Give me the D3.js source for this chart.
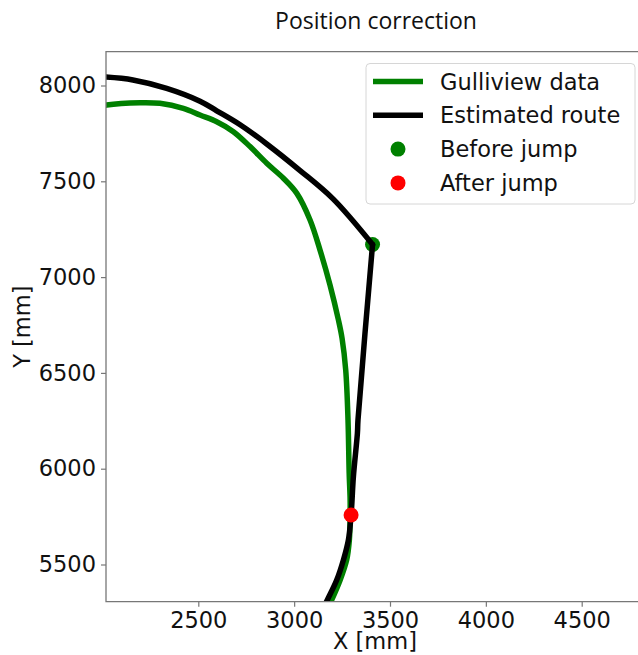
<!DOCTYPE html>
<html>
<head>
  <meta charset="utf-8">
  <title>Position correction</title>
  <style>
    body { margin: 0; background: #fff; }
    text { font-family: "DejaVu Sans", sans-serif; fill: #111; }
  </style>
</head>
<body>
<script src="https://d3js.org/d3.v7.min.js"></script>
<script>
  var width = 638;
  var height = 655;

  // gulliview measurements [x, y] in mm
  var gullX = [1980, 2022, 2196, 2300, 2422, 2509, 2596, 2683, 2770, 2857, 2944, 3014, 3083, 3135, 3187, 3231, 3250, 3269, 3281, 3287, 3292, 3292, 3288, 3274, 3240, 3196, 3166];
  var gullY = [7888, 7898, 7910, 7907, 7881, 7846, 7811, 7759, 7681, 7594, 7516, 7437, 7298, 7141, 6959, 6776, 6680, 6515, 6254, 5978, 5837, 5758, 5628, 5524, 5419, 5315, 5252];

  // estimated route (index 10 is the jump corner)
  var routeX = [1950, 2018, 2159, 2335, 2509, 2596, 2718, 2857, 3031, 3203, 3409, 3333, 3330, 3309, 3297, 3283, 3257, 3222, 3173, 3135];
  var routeY = [8046, 8044, 8029, 7985, 7918, 7868, 7795, 7695, 7556, 7408, 7170, 6254, 6186, 5958, 5758, 5628, 5524, 5419, 5315, 5237];
  var cornerIndex = 10;

  var beforeJump = [3409, 7170];
  var afterJump = [3297, 5758];

  var xTicks = [2500, 3000, 3500, 4000, 4500];
  var yTicks = [5500, 6000, 6500, 7000, 7500, 8000];

  var plotLeft = 106, plotTop = 51.7, plotBottom = 601.7, plotRight = 640;
  var fontSize = 22.5;

  var x = d3.scaleLinear().domain([2500, 4500]).range([198.3, 581.7]);
  var y = d3.scaleLinear().domain([8000, 5500]).range([85.5, 564.5]);

  var svg = d3.select('body')
    .append('svg')
      .attr('width', width)
      .attr('height', height);

  svg.append('defs').append('clipPath')
      .attr('id', 'plot-clip')
    .append('rect')
      .attr('x', plotLeft)
      .attr('y', plotTop)
      .attr('width', plotRight - plotLeft)
      .attr('height', plotBottom - plotTop);

  var line = d3.line()
    .x(function(d) { return x(d[0]); })
    .y(function(d) { return y(d[1]); })
    .curve(d3.curveCatmullRom.alpha(0.5));

  var plot = svg.append('g').attr('clip-path', 'url(#plot-clip)');

  var gull = d3.zip(gullX, gullY);
  var route = d3.zip(routeX, routeY);

  plot.append('path')
    .attr('d', line(gull))
    .attr('fill', 'none')
    .attr('stroke', 'green')
    .attr('stroke-width', 5.5)
    .attr('stroke-linejoin', 'round');

  plot.append('circle')
    .attr('cx', x(beforeJump[0]))
    .attr('cy', y(beforeJump[1]))
    .attr('r', 7.5)
    .attr('fill', 'green');

  // route drawn in two pieces so the jump stays a sharp corner
  [route.slice(0, cornerIndex + 1), route.slice(cornerIndex)].forEach(function(part) {
    plot.append('path')
      .attr('d', line(part))
      .attr('fill', 'none')
      .attr('stroke', 'black')
      .attr('stroke-width', 5.5)
      .attr('stroke-linecap', 'round')
      .attr('stroke-linejoin', 'round');
  });

  plot.append('circle')
    .attr('cx', x(afterJump[0]))
    .attr('cy', y(afterJump[1]))
    .attr('r', 7.5)
    .attr('fill', 'red');

  // axes
  var xAxis = d3.axisBottom(x).tickValues(xTicks).tickSize(5).tickPadding(5).tickFormat(d3.format('d'));
  var yAxis = d3.axisLeft(y).tickValues(yTicks).tickSize(5).tickPadding(5).tickFormat(d3.format('d'));

  var gx = svg.append('g')
    .attr('transform', 'translate(0,' + plotBottom + ')')
    .call(xAxis);
  var gy = svg.append('g')
    .attr('transform', 'translate(' + plotLeft + ',0)')
    .call(yAxis);

  [gx, gy].forEach(function(g) {
    g.select('.domain').remove();
    g.selectAll('line').attr('stroke', '#777').attr('stroke-width', 1.2);
    g.selectAll('text').attr('font-size', fontSize).attr('font-family', '"DejaVu Sans", sans-serif').attr('fill', '#111');
  });

  // spines
  svg.append('path')
    .attr('d', 'M' + plotRight + ',' + plotTop + 'H' + plotLeft + 'V' + plotBottom + 'H' + plotRight)
    .attr('fill', 'none')
    .attr('stroke', '#777')
    .attr('stroke-width', 1.3);

  svg.append('text')
    .attr('x', 375)
    .attr('y', 649)
    .attr('text-anchor', 'middle')
    .attr('font-size', fontSize)
    .text('X [mm]');

  svg.append('text')
    .attr('transform', 'translate(30,' + (plotTop + plotBottom) / 2 + ') rotate(-90)')
    .attr('text-anchor', 'middle')
    .attr('font-size', fontSize)
    .text('Y [mm]');

  svg.append('text')
    .attr('x', 376)
    .attr('y', 29)
    .attr('text-anchor', 'middle')
    .attr('font-size', 23)
    .style('font-family', '"Open Sans", sans-serif')
    .text('Position correction');

  // legend
  var legend = svg.append('g');
  legend.append('rect')
    .attr('x', 366)
    .attr('y', 63.5)
    .attr('width', 269)
    .attr('height', 140.5)
    .attr('rx', 4)
    .attr('fill', 'white')
    .attr('fill-opacity', 0.8)
    .attr('stroke', '#d6d6d6')
    .attr('stroke-width', 1);

  var items = [
    { label: 'Gulliview data', type: 'line', color: 'green' },
    { label: 'Estimated route', type: 'line', color: 'black' },
    { label: 'Before jump', type: 'dot', color: 'green' },
    { label: 'After jump', type: 'dot', color: 'red' }
  ];

  items.forEach(function(it, i) {
    var cy = 81.5 + i * 33.8;
    if (it.type === 'line') {
      legend.append('line')
        .attr('x1', 373).attr('x2', 423)
        .attr('y1', cy).attr('y2', cy)
        .attr('stroke', it.color)
        .attr('stroke-width', 5.5);
    } else {
      legend.append('circle')
        .attr('cx', 398).attr('cy', cy)
        .attr('r', 7.5)
        .attr('fill', it.color);
    }
    legend.append('text')
      .attr('x', 440)
      .attr('y', cy)
      .attr('dy', '0.36em')
      .attr('font-size', fontSize)
      .text(it.label);
  });
</script>
</body>
</html>
